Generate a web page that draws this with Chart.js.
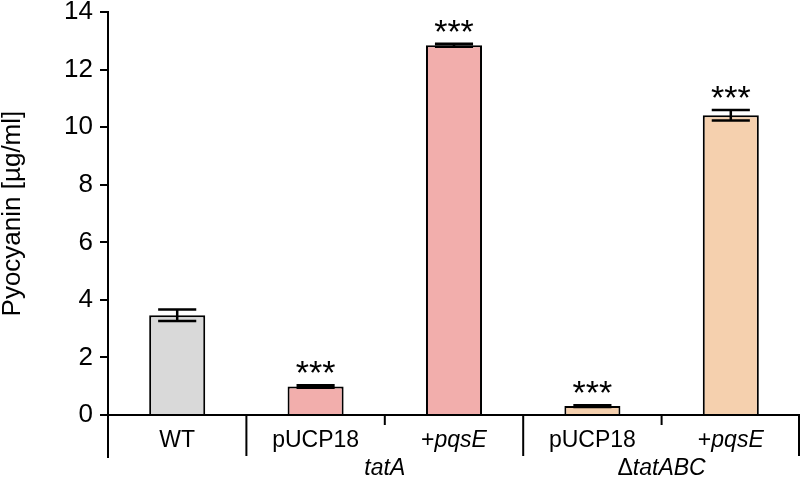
<!DOCTYPE html>
<html>
<head>
<meta charset="utf-8">
<script src="https://cdn.jsdelivr.net/npm/chart.js@4.4.1/dist/chart.umd.min.js"></script>
<style>
  html, body { margin: 0; padding: 0; background: #fff; }
  #wrap { width: 800px; height: 477px; }
</style>
</head>
<body>
<div id="wrap"><canvas id="myChart"></canvas></div>
<script>
// data
var categories = ['WT', 'pUCP18', '+pqsE', 'pUCP18', '+pqsE'];
var groupLabels = ['tatA', 'ΔtatABC'];
var groupStart = [1, 3];            // first category index of each group
var values = [3.47, 0.99, 12.85, 0.31, 10.42];
var errors = [0.20, 0.04, 0.05, 0.03, 0.18];
var stars = ['', '***', '***', '***', '***'];
var barColors = ['#d9d9d9', '#f2aeac', '#f2aeac', '#f5d0ae', '#f5d0ae'];
var yTicks = [0, 2, 4, 6, 8, 10, 12, 14];

var FONT = '"Liberation Sans", Arial, Helvetica, sans-serif';

// gene names are italic, a leading + or Δ is not
function drawMixed(c, text, x, y, size) {
    var m = text.match(/^([+Δ]?)([a-z]+[A-Z]*)$/);
    var parts = m ? [[m[1], ''], [m[2], 'italic ']] : [[text, '']];
    var total = 0;
    parts.forEach(function (p) {
        c.font = p[1] + size + 'px ' + FONT;
        total += c.measureText(p[0]).width;
    });
    var cx = x - total / 2;
    c.textAlign = 'left';
    parts.forEach(function (p) {
        c.font = p[1] + size + 'px ' + FONT;
        c.fillText(p[0], cx, y);
        cx += c.measureText(p[0]).width;
    });
}

var extras = {
    id: 'extras',
    afterDatasetsDraw: function (chart) {
        var c = chart.ctx;
        var xs = chart.scales.x, ys = chart.scales.y;
        var area = chart.chartArea;
        var meta = chart.getDatasetMeta(0);
        c.save();
        c.strokeStyle = '#000';
        c.fillStyle = '#000';

        // error bars and stars
        values.forEach(function (v, i) {
            var bar = meta.data[i];
            var x = bar.x;
            var half = bar.width * 0.34;
            var yHi = ys.getPixelForValue(v + errors[i]);
            var yLo = ys.getPixelForValue(v - errors[i]);
            c.lineWidth = 2.5;
            c.beginPath();
            c.moveTo(x, yHi); c.lineTo(x, yLo);
            c.moveTo(x - half, yHi); c.lineTo(x + half, yHi);
            c.moveTo(x - half, yLo); c.lineTo(x + half, yLo);
            c.stroke();
            if (stars[i]) {
                c.font = '34px ' + FONT;
                c.textAlign = 'center';
                c.textBaseline = 'alphabetic';
                c.fillText(stars[i], x, yHi - 1);
            }
        });

        // axis below zero and group separators
        var bottom = area.bottom;
        c.lineWidth = 2;
        c.beginPath();
        c.moveTo(area.left, bottom); c.lineTo(area.left, bottom + 43);
        var step = xs.getPixelForValue(1) - xs.getPixelForValue(0);
        groupStart.forEach(function (g) {
            var sx = xs.getPixelForValue(g) - step / 2;
            c.moveTo(sx, bottom); c.lineTo(sx, bottom + 41);
            var mx = xs.getPixelForValue(g) + step / 2;
            c.moveTo(mx, bottom); c.lineTo(mx, bottom + 10);
        });
        var rx = Math.min(area.right, chart.width) - 1;
        c.moveTo(rx, bottom); c.lineTo(rx, bottom + 41);
        c.stroke();

        // category and group labels
        c.textBaseline = 'middle';
        categories.forEach(function (lab, i) {
            drawMixed(c, lab, xs.getPixelForValue(i), bottom + 26, 23);
        });
        groupLabels.forEach(function (lab, k) {
            var gx = xs.getPixelForValue(groupStart[k]) + step / 2;
            drawMixed(c, lab, gx, bottom + 54, 23);
        });
        c.restore();
    }
};

var ctx = document.getElementById('myChart').getContext('2d');
var myChart = new Chart(ctx, {
    type: 'bar',
    data: {
        labels: categories,
        datasets: [{
            data: values,
            backgroundColor: barColors,
            borderColor: '#000',
            borderWidth: 2,
            categoryPercentage: 1,
            barPercentage: 0.405
        }]
    },
    options: {
        responsive: true,
        maintainAspectRatio: false,
        animation: false,
        layout: { padding: { top: 12, right: 0, bottom: 62, left: 0 } },
        plugins: { legend: { display: false }, tooltip: { enabled: false } },
        scales: {
            x: {
                ticks: { display: false },
                grid: { display: false, drawTicks: false },
                border: { color: '#000', width: 2 }
            },
            y: {
                min: 0,
                max: 14,
                afterBuildTicks: function (s) { s.ticks = yTicks.map(function (v) { return { value: v }; }); },
                afterFit: function (s) { s.width = 108; },
                ticks: { color: '#000', font: { family: FONT, size: 26, lineHeight: 0.4 }, padding: 7 },
                grid: { drawOnChartArea: false, drawTicks: true, tickLength: 8, color: '#000', lineWidth: 2 },
                border: { color: '#000', width: 2 },
                title: {
                    display: true,
                    text: 'Pyocyanin [µg/ml]',
                    color: '#000',
                    font: { family: FONT, size: 26, lineHeight: 1.0 },
                    padding: { top: 0, bottom: 0 }
                }
            }
        }
    },
    plugins: [extras]
});
</script>
</body>
</html>
